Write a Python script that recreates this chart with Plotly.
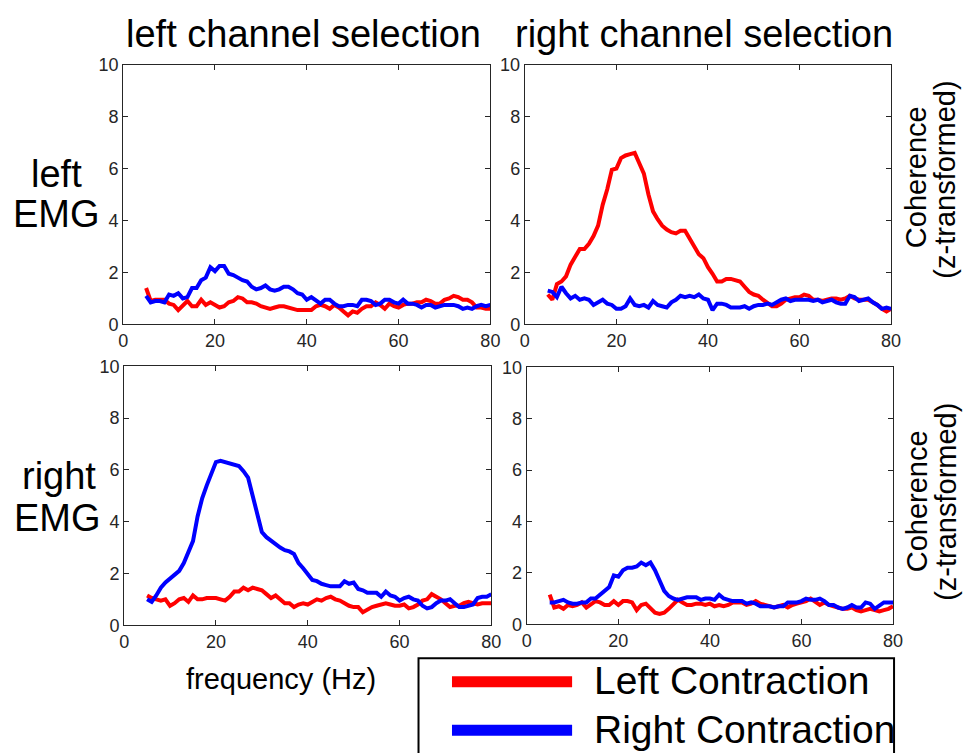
import plotly.graph_objects as go

# Frequency axis (Hz)
freq = list(range(5, 81))

# Coherence (z-transformed), rows = EMG side, columns = channel selection
# left EMG / left channel selection
tl_left = [1.4, 0.9, 0.95, 0.95, 0.95, 0.8, 0.75, 0.55, 0.75, 0.9,
           0.7, 0.7, 0.95, 0.75, 0.85, 0.75, 0.65, 0.7, 0.85, 0.9,
           1.05, 1.0, 0.85, 0.85, 0.8, 0.7, 0.65, 0.6, 0.65, 0.7,
           0.7, 0.65, 0.6, 0.55, 0.55, 0.55, 0.55, 0.7, 0.75, 0.7,
           0.6, 0.75, 0.65, 0.5, 0.35, 0.5, 0.45, 0.6, 0.7, 0.7,
           0.85, 0.75, 0.6, 0.8, 0.7, 0.65, 0.75, 0.8, 0.8, 0.85,
           0.85, 0.95, 0.9, 0.8, 0.8, 0.95, 1.0, 1.1, 1.05, 0.95,
           0.95, 0.85, 0.65, 0.65, 0.6, 0.6]
tl_right = [1.1, 0.85, 0.9, 0.9, 0.85, 1.15, 1.1, 1.2, 1.0, 1.05,
            1.4, 1.4, 1.7, 1.8, 2.2, 2.05, 2.25, 2.25, 1.95, 1.9,
            1.8, 1.7, 1.65, 1.45, 1.35, 1.4, 1.5, 1.35, 1.3, 1.35,
            1.45, 1.45, 1.35, 1.2, 1.15, 0.95, 1.05, 0.9, 0.8, 0.95,
            0.95, 0.8, 0.7, 0.7, 0.75, 0.75, 0.7, 0.95, 0.95, 0.9,
            0.75, 0.8, 0.95, 0.95, 0.85, 0.8, 0.95, 0.8, 0.8, 0.75,
            0.65, 0.75, 0.75, 0.65, 0.7, 0.75, 0.75, 0.75, 0.7, 0.6,
            0.65, 0.6, 0.7, 0.75, 0.7, 0.75]

# left EMG / right channel selection
tr_left = [1.15, 0.95, 1.55, 1.65, 1.85, 2.3, 2.6, 2.9, 2.9, 3.1,
           3.4, 3.8, 4.6, 5.2, 5.95, 6.0, 6.4, 6.5, 6.55, 6.6,
           6.2, 5.8, 5.0, 4.35, 4.05, 3.8, 3.65, 3.55, 3.5, 3.6,
           3.6, 3.3, 3.0, 2.7, 2.55, 2.2, 1.95, 1.65, 1.65, 1.75,
           1.75, 1.7, 1.65, 1.45, 1.25, 1.15, 1.1, 0.95, 0.8, 0.7,
           0.7, 0.8, 0.95, 1.0, 1.05, 1.05, 1.15, 1.1, 0.95, 0.95,
           0.9, 0.95, 1.0, 1.0, 0.95, 1.0, 1.1, 1.0, 0.95, 0.95,
           0.95, 0.85, 0.75, 0.6, 0.5, 0.6]
tr_right = [1.3, 1.25, 1.05, 1.45, 1.2, 1.0, 1.1, 0.95, 1.0, 0.95,
            0.75, 0.85, 0.95, 0.8, 0.75, 0.6, 0.6, 0.7, 1.0, 0.75,
            0.7, 0.75, 0.65, 0.9, 0.75, 0.7, 0.65, 0.85, 0.95, 1.1,
            1.05, 1.1, 1.05, 1.15, 1.0, 0.95, 0.55, 0.8, 0.8, 0.75,
            0.65, 0.65, 0.65, 0.7, 0.6, 0.7, 0.75, 0.75, 0.8, 0.75,
            0.85, 0.95, 1.0, 0.9, 0.95, 0.95, 0.95, 0.95, 0.9, 0.95,
            0.85, 0.9, 0.95, 0.85, 0.8, 0.8, 1.1, 1.05, 0.9, 0.95,
            1.0, 0.85, 0.75, 0.6, 0.65, 0.6]

# right EMG / left channel selection
bl_left = [1.15, 1.05, 1.0, 0.95, 1.0, 0.75, 0.85, 1.0, 1.05, 0.9,
           1.15, 1.0, 1.0, 1.05, 1.05, 1.05, 1.0, 0.95, 1.1, 1.3,
           1.3, 1.45, 1.35, 1.45, 1.4, 1.35, 1.2, 1.05, 1.15, 1.0,
           0.85, 0.85, 0.7, 0.8, 0.85, 0.8, 0.9, 1.0, 0.95, 1.05,
           1.1, 1.0, 0.95, 0.85, 0.75, 0.7, 0.7, 0.5, 0.6, 0.7,
           0.75, 0.8, 0.85, 0.8, 0.75, 0.75, 0.8, 0.65, 0.7, 0.8,
           0.95, 1.0, 1.2, 1.1, 1.0, 0.85, 0.7, 0.75, 0.75, 0.85,
           0.9, 0.85, 0.8, 0.85, 0.85, 0.85]
bl_right = [1.0, 0.9, 1.15, 1.45, 1.65, 1.8, 1.95, 2.1, 2.4, 2.85,
            3.25, 4.2, 4.9, 5.4, 5.9, 6.3, 6.35, 6.3, 6.25, 6.2,
            6.15, 5.95, 5.7, 5.0, 4.3, 3.6, 3.4, 3.25, 3.15, 3.0,
            2.9, 2.85, 2.75, 2.4, 2.2, 1.95, 1.75, 1.7, 1.6, 1.55,
            1.5, 1.5, 1.5, 1.7, 1.6, 1.65, 1.4, 1.35, 1.25, 1.25,
            1.25, 1.1, 1.3, 1.15, 1.1, 0.95, 1.05, 1.1, 1.0, 0.95,
            0.75, 0.65, 0.7, 0.85, 0.95, 0.95, 1.0, 0.85, 0.7, 0.7,
            0.75, 0.8, 1.05, 1.1, 1.1, 1.2]

# right EMG / right channel selection
br_left = [1.15, 0.65, 0.7, 0.6, 0.75, 0.7, 0.75, 0.85, 0.65, 0.8,
           0.9, 0.85, 0.75, 0.75, 0.9, 0.75, 0.9, 0.9, 0.85, 0.55,
           0.75, 0.8, 0.6, 0.45, 0.4, 0.45, 0.6, 0.8, 0.95, 0.85,
           0.75, 0.75, 0.8, 0.8, 0.75, 0.8, 0.7, 0.75, 0.7, 0.75,
           0.85, 0.85, 0.85, 0.75, 0.8, 0.9, 0.8, 0.75, 0.7, 0.65,
           0.7, 0.75, 0.65, 0.75, 0.8, 0.85, 0.9, 1.0, 0.85, 0.75,
           0.85, 0.75, 0.7, 0.65, 0.6, 0.6, 0.65, 0.55, 0.5, 0.55,
           0.6, 0.55, 0.5, 0.55, 0.6, 0.7]
br_right = [0.85, 0.85, 0.9, 0.95, 0.85, 0.8, 0.8, 0.85, 0.85, 1.0,
            1.0, 1.15, 1.3, 1.45, 1.9, 1.85, 2.1, 2.2, 2.2, 2.25,
            2.4, 2.3, 2.4, 2.1, 1.7, 1.3, 1.1, 1.0, 0.95, 1.0,
            1.05, 1.05, 1.05, 0.95, 1.0, 1.0, 0.95, 1.15, 1.0, 0.95,
            0.9, 0.9, 0.9, 0.8, 0.85, 0.8, 0.7, 0.7, 0.7, 0.65,
            0.7, 0.7, 0.85, 0.85, 0.85, 0.9, 1.0, 0.95, 0.95, 1.0,
            0.9, 0.75, 0.75, 0.65, 0.6, 0.65, 0.75, 0.65, 0.65, 0.85,
            0.8, 0.6, 0.75, 0.85, 0.85, 0.85]

x_ticks = [0, 20, 40, 60, 80]
y_ticks = [0, 2, 4, 6, 8, 10]
series_names = ["Left Contraction", "Right Contraction"]
colors = ["#ff0000", "#0000ff"]

W, H = 971, 753
FONT = "Liberation Sans, Arial, Helvetica, sans-serif"
AX_COLOR = "#262626"


def px(x):
    return x / W


def py(y):
    return 1 - y / H


# panel boxes in pixels: (left, right, top, bottom)
panels = [
    (120, 493, 56, 323, tl_left, tl_right),
    (528, 900, 56, 323, tr_left, tr_right),
    (121, 494, 366, 632, bl_left, bl_right),
    (530, 902, 367, 631, br_left, br_right),
]

fig = go.Figure()
layout_axes = {}
for i, (l, r, t, b, red_vals, blue_vals) in enumerate(panels, start=1):
    sfx = "" if i == 1 else str(i)
    for vals, color, name in zip([red_vals, blue_vals], colors, series_names):
        fig.add_trace(go.Scatter(
            x=freq, y=vals, mode="lines", name=name,
            line=dict(color=color, width=4),
            xaxis="x" + sfx, yaxis="y" + sfx, showlegend=False,
        ))
    common = dict(
        showline=True, linecolor=AX_COLOR, linewidth=1.2, mirror="ticks",
        ticks="inside", ticklen=5, tickwidth=1, tickcolor=AX_COLOR,
        showgrid=False, zeroline=False, fixedrange=True,
        tickfont=dict(family=FONT, size=18, color=AX_COLOR),
    )
    layout_axes["xaxis" + sfx] = dict(
        common, domain=[px(l), px(r)], range=[0, 80], tickvals=x_ticks,
        anchor="y" + sfx,
    )
    layout_axes["yaxis" + sfx] = dict(
        common, domain=[py(b), py(t)], range=[0, 10], tickvals=y_ticks,
        anchor="x" + sfx,
    )

fig.update_layout(**layout_axes)


def label(text, x, y, size, angle=0):
    return dict(text=text, x=px(x), y=py(y), xref="paper", yref="paper",
                showarrow=False, xanchor="center", yanchor="middle",
                textangle=angle, font=dict(family=FONT, size=size, color="black"))


annotations = [
    label("left channel selection", 303, 25, 38),
    label("right channel selection", 710, 25, 38),
    label("left", 52, 168, 38),
    label("EMG", 52, 210, 38),
    label("right", 55, 479, 38),
    label("EMG", 53, 522, 38),
    label("Coherence", 926, 172, 29, -90),
    label("(z-transformed)", 955, 174, 29, -90),
    label("Coherence", 926, 505, 29, -90),
    label("(z-transformed)", 955, 505, 29, -90),
    label("frequency (Hz)", 280, 687, 29),
]

# legend box with its two entries
legend_shapes = [
    dict(type="rect", xref="paper", yref="paper",
         x0=px(420), x1=px(903), y0=py(666), y1=py(775),
         line=dict(color="black", width=2), fillcolor="white", layer="above"),
]
for k, (name, color) in enumerate(zip(series_names, colors)):
    yc = 690 + 50 * k
    legend_shapes.append(dict(
        type="line", xref="paper", yref="paper",
        x0=px(454), x1=px(576), y0=py(yc), y1=py(yc),
        line=dict(color=color, width=11), layer="above"))
    annotations.append(dict(
        text=name, x=px(596), y=py(yc - 1), xref="paper", yref="paper",
        showarrow=False, xanchor="left", yanchor="middle",
        font=dict(family=FONT, size=39, color="black")))

fig.update_layout(
    width=W, height=H, margin=dict(l=0, r=0, t=0, b=0),
    paper_bgcolor="white", plot_bgcolor="white",
    showlegend=False, annotations=annotations, shapes=legend_shapes,
)

fig.write_html("out.html")
